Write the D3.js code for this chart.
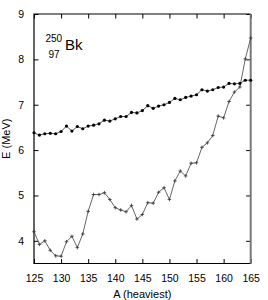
<!DOCTYPE html>
<html>
<head>
<meta charset="utf-8">
<script src="https://cdn.jsdelivr.net/npm/d3@7"></script>
<style>
  body { margin: 0; background: #fff; }
  text { font-family: 'Liberation Sans Narrow', 'Liberation Sans', Arial, sans-serif; fill: #000; }
</style>
</head>
<body>
<svg></svg>
<script>
// data

const massNumbers = d3.range(125, 166);

const upperSeries = [
  6.38, 6.33, 6.36, 6.37, 6.36, 6.41, 6.53, 6.42, 6.52, 6.47,
  6.53, 6.55, 6.58, 6.66, 6.64, 6.69, 6.74, 6.74, 6.83, 6.82,
  6.87, 6.98, 6.92, 6.97, 7.00, 7.05, 7.14, 7.11, 7.16, 7.19,
  7.22, 7.33, 7.30, 7.33, 7.38, 7.39, 7.47, 7.46, 7.47, 7.54,
  7.54
];

const lowerSeries = [
  4.20, 3.92, 4.00, 3.79, 3.67, 3.66, 3.98, 4.10, 3.85, 4.15,
  4.65, 5.02, 5.02, 5.06, 4.91, 4.73, 4.68, 4.64, 4.78, 4.48,
  4.58, 4.84, 4.83, 5.07, 5.17, 4.91, 5.32, 5.54, 5.43, 5.71,
  5.72, 6.06, 6.16, 6.32, 6.75, 6.71, 7.07, 7.28, 7.39, 8.01,
  8.47
];

const xTicks = [125, 130, 135, 140, 145, 150, 155, 160, 165];
const yTicks = [4, 5, 6, 7, 8, 9];


// root svg

const margin = { top: 14, right: 17.3, bottom: 36.5, left: 34 },
      totalWidth = 268, totalHeight = 300,
      width = totalWidth - margin.left - margin.right,
      height = totalHeight - margin.top - margin.bottom;

const svg = d3.select('svg')
  .attr('width', totalWidth)
  .attr('height', totalHeight);

const g = svg.append('g')
  .attr('transform', `translate(${margin.left},${margin.top})`);

const xScale = d3.scaleLinear().domain([125, 165]).range([0, width]);
const yScale = d3.scaleLinear().domain([3.5, 9]).range([height, 0]);


// axes (gnuplot style, ticks inward on all sides)

const tickLen = 4.5;

const axisStyle = sel => {
  sel.select('.domain').remove();
  sel.selectAll('.tick line').attr('stroke', '#000').attr('stroke-width', 1);
  sel.selectAll('.tick text').style('font-size', '10.5px').attr('fill', '#000');
};

g.append('g')
  .attr('transform', `translate(0,${height})`)
  .call(d3.axisBottom(xScale).tickValues(xTicks).tickSize(-tickLen).tickPadding(11).tickFormat(d3.format('d')))
  .call(axisStyle);

g.append('g')
  .call(d3.axisTop(xScale).tickValues(xTicks).tickSize(-tickLen).tickFormat(''))
  .call(axisStyle);

g.append('g')
  .call(d3.axisLeft(yScale).tickValues(yTicks).tickSize(-tickLen).tickPadding(10).tickFormat(d3.format('d')))
  .call(axisStyle);

g.append('g')
  .attr('transform', `translate(${width},0)`)
  .call(d3.axisRight(yScale).tickValues(yTicks).tickSize(-tickLen).tickFormat(''))
  .call(axisStyle);

// frame
g.append('path')
  .attr('d', `M${width},0H0V${height}H${width}`)
  .attr('fill', 'none')
  .attr('stroke', '#000')
  .attr('stroke-width', 1.2);

g.append('line')
  .attr('x1', width).attr('x2', width)
  .attr('y1', 0).attr('y2', height)
  .attr('stroke', '#777')
  .attr('stroke-width', 2);


// axis titles

svg.append('text')
  .attr('x', margin.left + width / 2)
  .attr('y', 298)
  .attr('text-anchor', 'middle')
  .style('font-size', '11px')
  .text('A (heaviest)');

svg.append('text')
  .attr('transform', `translate(10,${margin.top + height / 2}) rotate(-90)`)
  .attr('text-anchor', 'middle')
  .style('font-size', '11px')
  .text('E (MeV)');


// nucleus label

const label = svg.append('g').attr('transform', 'translate(45,50)');

label.append('text').attr('x', 0.5).attr('y', -8)
  .style('font-family', "'Liberation Sans', Arial, sans-serif")
  .style('font-size', '10px').text('250');
label.append('text').attr('x', 3.5).attr('y', 7.5)
  .style('font-family', "'Liberation Sans', Arial, sans-serif")
  .style('font-size', '10px').text('97');
label.append('text').attr('x', 20).attr('y', 0)
  .style('font-family', "'Liberation Sans', Arial, sans-serif")
  .style('font-size', '15px').text('Bk');


// lines

const line = d3.line()
  .x((d, i) => xScale(massNumbers[i]))
  .y(d => yScale(d));

g.append('path')
  .attr('d', line(upperSeries))
  .attr('fill', 'none')
  .attr('stroke', '#444')
  .attr('stroke-width', 0.9);

g.append('path')
  .attr('d', line(lowerSeries))
  .attr('fill', 'none')
  .attr('stroke', '#555')
  .attr('stroke-width', 0.9);

g.selectAll('circle.upper')
  .data(upperSeries)
  .enter()
    .append('circle')
    .attr('class', 'upper')
    .attr('cx', (d, i) => xScale(massNumbers[i]))
    .attr('cy', d => yScale(d))
    .attr('r', 1.6)
    .attr('fill', '#000');

const plusSize = 1.8;

g.selectAll('path.plus')
  .data(lowerSeries)
  .enter()
    .append('path')
    .attr('class', 'plus')
    .attr('d', (d, i) => {
      const x = xScale(massNumbers[i]), y = yScale(d);
      return `M${x - plusSize},${y}H${x + plusSize}M${x},${y - plusSize}V${y + plusSize}`;
    })
    .attr('stroke', '#333')
    .attr('stroke-width', 0.8);
</script>
</body>
</html>
